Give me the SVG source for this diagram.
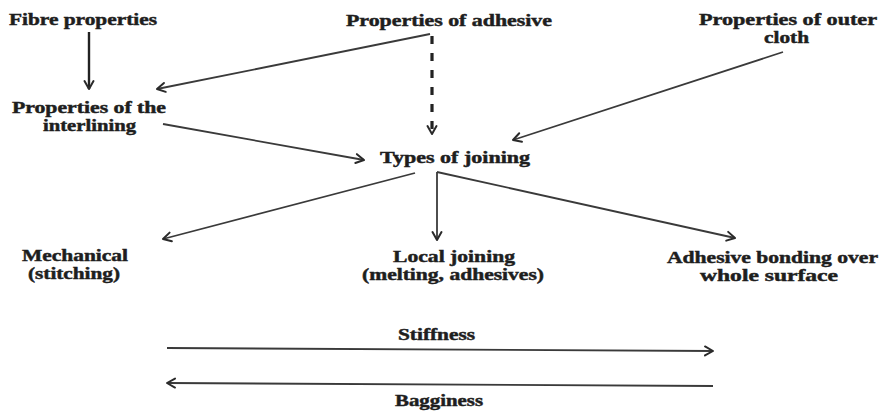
<svg xmlns="http://www.w3.org/2000/svg" width="884" height="412" viewBox="0 0 884 412">
<style>
text{font-family:"Liberation Serif","Times New Roman",serif;font-weight:bold;font-size:16px;fill:#1e1e1e;stroke:#1e1e1e;stroke-width:0.45}
.c{stroke:#3a3a3a;stroke-width:1.8;fill:none;marker-end:url(#ah)}
.d{stroke:#222;stroke-width:3.2;fill:none;stroke-dasharray:8 9;marker-end:url(#ah)}
.t{stroke:#222;stroke-width:2.4;fill:none;marker-end:url(#ah)}
</style>
<defs>
<marker id="ah" viewBox="0 0 12 12" refX="10" refY="6" markerWidth="12" markerHeight="12" markerUnits="userSpaceOnUse" orient="auto">
<path d="M2,1.5 L10,6 L2,10.5" fill="none" stroke="#2a2a2a" stroke-width="2" stroke-linecap="round" stroke-linejoin="round"/>
</marker>
</defs>
<rect width="884" height="412" fill="#ffffff"/>
<g id="connectors">
<line class="t" x1="89" y1="32" x2="89" y2="89"/>
<line class="c" x1="430" y1="34" x2="157" y2="89"/>
<line class="d" x1="432" y1="36" x2="432" y2="134"/>
<line class="c" x1="783" y1="52" x2="513" y2="140"/>
<line class="c" x1="163" y1="124" x2="364" y2="160"/>
<line class="c" x1="415" y1="173" x2="163" y2="239"/>
<line class="c" x1="437" y1="172" x2="437" y2="240"/>
<line class="c" x1="437" y1="172" x2="735" y2="238"/>
<line class="c" x1="167" y1="348" x2="713" y2="351"/>
<line class="c" x1="713" y1="386" x2="167" y2="383"/>
</g>
<g id="fibre"><text x="9" y="25" textLength="148" lengthAdjust="spacingAndGlyphs">Fibre properties</text></g>
<g id="adhesive"><text x="346" y="26" textLength="206" lengthAdjust="spacingAndGlyphs">Properties of adhesive</text></g>
<g id="outer"><text x="699" y="25" textLength="178" lengthAdjust="spacingAndGlyphs">Properties of outer</text><text x="764" y="43" textLength="45" lengthAdjust="spacingAndGlyphs">cloth</text></g>
<g id="interlining"><text x="12" y="113" textLength="154" lengthAdjust="spacingAndGlyphs">Properties of the</text><text x="43" y="131" textLength="93" lengthAdjust="spacingAndGlyphs">interlining</text></g>
<g id="types"><text x="380" y="163" textLength="150" lengthAdjust="spacingAndGlyphs">Types of joining</text></g>
<g id="mechanical"><text x="22" y="261" textLength="106" lengthAdjust="spacingAndGlyphs">Mechanical</text><text x="28" y="279" textLength="92" lengthAdjust="spacingAndGlyphs">(stitching)</text></g>
<g id="local"><text x="393" y="262" textLength="122" lengthAdjust="spacingAndGlyphs">Local joining</text><text x="362" y="280" textLength="182" lengthAdjust="spacingAndGlyphs">(melting, adhesives)</text></g>
<g id="bonding"><text x="667" y="263" textLength="211" lengthAdjust="spacingAndGlyphs">Adhesive bonding over</text><text x="700" y="281" textLength="138" lengthAdjust="spacingAndGlyphs">whole surface</text></g>
<g id="stiffness"><text x="398" y="340" textLength="77" lengthAdjust="spacingAndGlyphs">Stiffness</text></g>
<g id="bagginess"><text x="395" y="406" textLength="88" lengthAdjust="spacingAndGlyphs">Bagginess</text></g>
</svg>
